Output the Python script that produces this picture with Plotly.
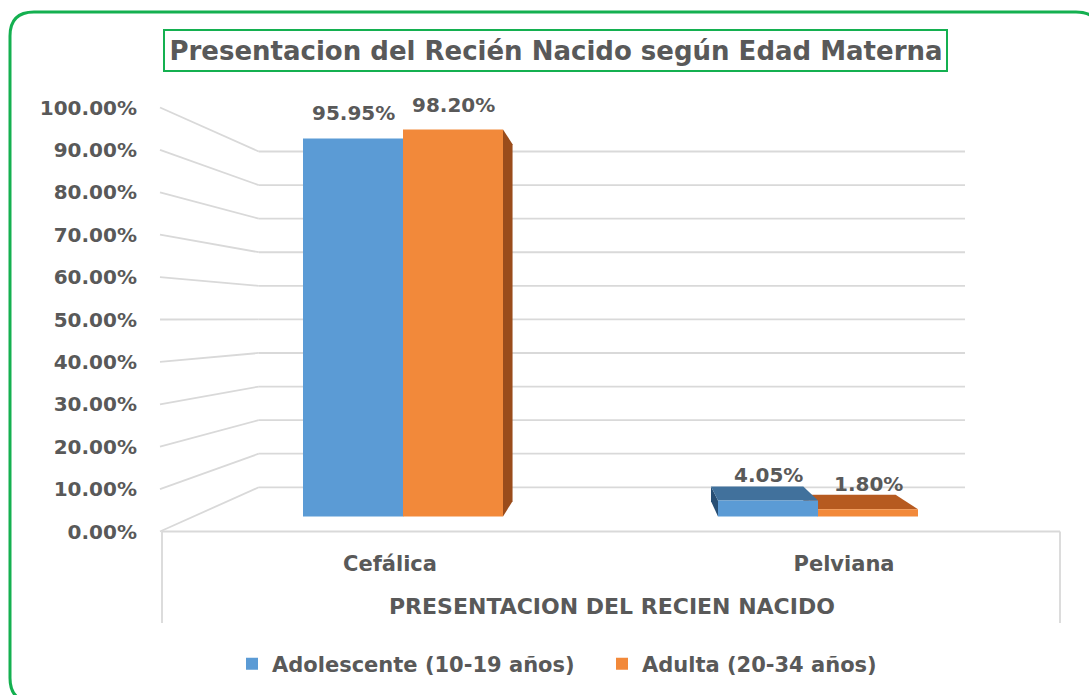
import plotly.graph_objects as go

# ---------------- data ----------------
categories = ["Cefálica", "Pelviana"]
series_names = ["Adolescente (10-19 años)", "Adulta (20-34 años)"]
adolescente = [95.95, 4.05]
adulta = [98.20, 1.80]
value_labels_adol = ["95.95%", "4.05%"]
value_labels_adul = ["98.20%", "1.80%"]
tick_values = [0, 10, 20, 30, 40, 50, 60, 70, 80, 90, 100]
tick_labels = ["0.00%", "10.00%", "20.00%", "30.00%", "40.00%", "50.00%",
               "60.00%", "70.00%", "80.00%", "90.00%", "100.00%"]
chart_title = "Presentacion del Recién Nacido según Edad Materna"
x_title = "PRESENTACION DEL RECIEN NACIDO"

# ---------------- style / geometry ----------------
W, H = 1089, 695
FONT = "DejaVu Sans"
GRAY = "#595959"
GREEN = "#14b050"
GRID = "#d9d9d9"
FRONT_COLORS = ["#5b9bd5", "#f2893a"]
TOP_COLORS = ["#41719c", "#b65a20"]
SIDE_COLORS = ["#274e74", "#9a4c1b"]

# simple perspective model (pixels)
VPX, VPY = 627.0, 319.0          # vanishing point
FRONT_Y0, FRONT_UNIT = 531.5, 4.24   # front plane: y of 0% and px per 1%
K_BAR = 0.929                    # bar front plane scale vs front plane
K_DEPTH = 0.923                  # bar back scale vs bar front
K_BACK = 0.792                   # back wall scale vs front plane
BAR_C0, BAR_CUNIT = 403.0, 415.0     # bar plane category centre / spacing
FRONT_C0, FRONT_CUNIT = 390.0, 454.0 # category label centre / spacing
FLOOR_L, FLOOR_R, BACK_R, BOX_BOTTOM = 162.0, 1060.0, 965.0, 623.0
CONN_X = 160.0

BAR_Y0 = VPY + (FRONT_Y0 - VPY) * K_BAR
BAR_UNIT = FRONT_UNIT * K_BAR
BACK_L = VPX + (FLOOR_L - VPX) * K_BACK

BARGAP = 1 - 2 * 100.0 / BAR_CUNIT


def px(x):
    return x / W


def py(y):
    return 1 - y / H


# --------------- traces ---------------
fig = go.Figure()

# 3D side/top faces of the columns, computed from the data values
vx = (VPX - BAR_C0) / BAR_CUNIT
vy = (BAR_Y0 - VPY) / BAR_UNIT
gw = 1 - BARGAP


def back(x, y):
    return vx + (x - vx) * K_DEPTH, vy + (y - vy) * K_DEPTH


series = [adolescente, adulta]
for j in [1, 0]:
    vals = series[j]
    for i, v in enumerate(vals):
        xl = i - gw / 2 + j * gw / 2
        xr = xl + gw / 2
        faces = []
        if xl > vx:  # left side visible
            pts = [(xl, 0), (xl, v), back(xl, v), back(xl, 0)]
            faces.append((pts, SIDE_COLORS[j]))
        if xr < vx:  # right side visible
            pts = [(xr, 0), (xr, v), back(xr, v), back(xr, 0)]
            faces.append((pts, SIDE_COLORS[j]))
        if v < vy:  # top visible
            pts = [(xl, v), (xr, v), back(xr, v), back(xl, v)]
            faces.append((pts, TOP_COLORS[j]))
        for pts, col in faces:
            xs = [p[0] for p in pts] + [pts[0][0]]
            ys = [p[1] for p in pts] + [pts[0][1]]
            fig.add_trace(go.Scatter(x=xs, y=ys, fill="toself", fillcolor=col,
                                     mode="lines", line=dict(width=0, color=col),
                                     showlegend=False, hoverinfo="skip",
                                     xaxis="x", yaxis="y"))

# front faces: real bars
for j, (name, vals) in enumerate(zip(series_names, series)):
    fig.add_trace(go.Bar(x=categories, y=vals, name=name,
                         marker=dict(color=FRONT_COLORS[j], line=dict(width=0)),
                         xaxis="x2", yaxis="y2", hoverinfo="skip"))

# carrier for the front-plane axes (tick labels)
fig.add_trace(go.Scatter(x=[None], y=[None], xaxis="x3", yaxis="y3",
                         mode="markers", showlegend=False, hoverinfo="skip"))

# --------------- shapes (perspective grid) ---------------
shapes = []
line = dict(color=GRID, width=1.8)
for v in tick_values:
    fy = FRONT_Y0 - v * FRONT_UNIT
    by = VPY + (fy - VPY) * K_BACK
    shapes.append(dict(type="line", xref="paper", yref="paper",
                       x0=px(CONN_X), y0=py(fy), x1=px(BACK_L), y1=py(by),
                       line=line, layer="below"))
    shapes.append(dict(type="line", xref="paper", yref="paper",
                       x0=px(BACK_L), y0=py(by), x1=px(BACK_R), y1=py(by),
                       line=line, layer="below"))
shapes.append(dict(type="line", xref="paper", yref="paper",
                   x0=px(FLOOR_L), y0=py(FRONT_Y0), x1=px(FLOOR_R), y1=py(FRONT_Y0),
                   line=line, layer="below"))
for xx in [FLOOR_L, FLOOR_R]:
    shapes.append(dict(type="line", xref="paper", yref="paper",
                       x0=px(xx), y0=py(FRONT_Y0), x1=px(xx), y1=py(BOX_BOTTOM),
                       line=line, layer="below"))

# title box
shapes.append(dict(type="rect", xref="paper", yref="paper",
                   x0=px(164), y0=py(30), x1=px(947), y1=py(71),
                   line=dict(color=GREEN, width=2), layer="below"))

# rounded outer frame
L, T, R, B, r = 10, 12, 1100, 702, 24
path = (f"M {px(L)},{py(T + r)} Q {px(L)},{py(T)} {px(L + r)},{py(T)} "
        f"L {px(R - r)},{py(T)} Q {px(R)},{py(T)} {px(R)},{py(T + r)} "
        f"L {px(R)},{py(B - r)} Q {px(R)},{py(B)} {px(R - r)},{py(B)} "
        f"L {px(L + r)},{py(B)} Q {px(L)},{py(B)} {px(L)},{py(B - r)} Z")
shapes.append(dict(type="path", xref="paper", yref="paper", path=path,
                   line=dict(color=GREEN, width=3), layer="below"))

# --------------- annotations ---------------
annotations = []
for j, (vals, labs) in enumerate([(adolescente, value_labels_adol), (adulta, value_labels_adul)]):
    for i, (v, t) in enumerate(zip(vals, labs)):
        xc = i - gw / 2 + j * gw / 2 + gw / 4
        annotations.append(dict(x=xc, y=v, xref="x", yref="y", text=t,
                                showarrow=False, yshift=25, yanchor="middle",
                                font=dict(family=FONT, size=20, color=GRAY, weight="bold")))
annotations.append(dict(x=px(612), y=py(606), xref="paper", yref="paper",
                        text=x_title, showarrow=False, xanchor="center", yanchor="middle",
                        font=dict(family=FONT, size=22, color=GRAY, weight="bold")))

hidden = dict(visible=False, showgrid=False, zeroline=False, fixedrange=True)
x_range = [(0 - BAR_C0) / BAR_CUNIT, (W - BAR_C0) / BAR_CUNIT]
y_range = [(BAR_Y0 - H) / BAR_UNIT, BAR_Y0 / BAR_UNIT]

fig.update_layout(
    width=W, height=H,
    margin=dict(l=0, r=0, t=0, b=0),
    paper_bgcolor="white", plot_bgcolor="rgba(0,0,0,0)",
    barmode="group", bargap=BARGAP, bargroupgap=0,
    title=dict(text=chart_title, x=px(556), y=py(51), xanchor="center", yanchor="middle",
               xref="paper", yref="paper",
               font=dict(family=FONT, size=26, color=GRAY, weight="bold")),
    xaxis=dict(hidden, domain=[0, 1], range=x_range, type="linear"),
    yaxis=dict(hidden, domain=[0, 1], range=y_range),
    xaxis2=dict(hidden, overlaying="x", range=x_range, type="category",
                categoryorder="array", categoryarray=categories),
    yaxis2=dict(hidden, overlaying="y", range=y_range),
    xaxis3=dict(overlaying="x", type="linear", anchor="free", position=py(549),
                range=[(0 - FRONT_C0) / FRONT_CUNIT, (W - FRONT_C0) / FRONT_CUNIT],
                tickmode="array", tickvals=list(range(len(categories))), ticktext=categories,
                showgrid=False, zeroline=False, showline=False, ticks="",
                tickfont=dict(family=FONT, size=21, color=GRAY, weight="bold"), fixedrange=True),
    yaxis3=dict(overlaying="y", anchor="free", position=px(137), side="left",
                range=[(FRONT_Y0 - H) / FRONT_UNIT, FRONT_Y0 / FRONT_UNIT],
                tickmode="array", tickvals=tick_values, ticktext=tick_labels,
                showgrid=False, zeroline=False, showline=False, ticks="",
                tickfont=dict(family=FONT, size=20, color=GRAY, weight="bold"), fixedrange=True),
    legend=dict(orientation="h", x=px(232), xanchor="left", y=py(664), yanchor="middle",
                font=dict(family=FONT, size=21, color=GRAY, weight="bold"),
                bgcolor="rgba(0,0,0,0)", entrywidth=325, entrywidthmode="pixels",
                traceorder="normal"),
    shapes=shapes,
    annotations=annotations,
    showlegend=True,
)

fig.write_html("out.html", config={"displayModeBar": False},
               post_script="document.body.style.margin='0';document.body.style.overflow='hidden';")
